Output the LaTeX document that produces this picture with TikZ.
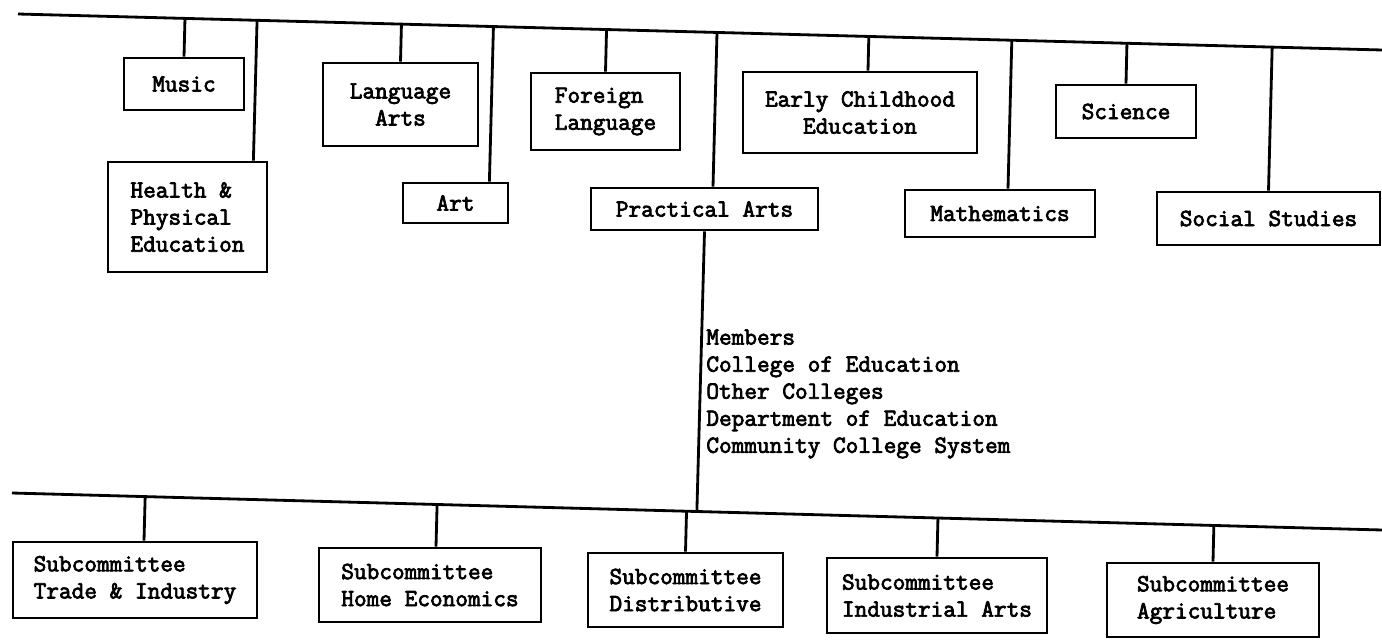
\documentclass[tikz,border=0pt]{standalone}
\usepackage{fontspec}
\usepackage{tikz}
\usetikzlibrary{calc}
\newfontfamily\typewriter{Latin Modern Mono}[FakeBold=3]

\begin{document}
\begin{tikzpicture}[x=0.02cm, y=0.02cm,
	unit/.style={draw=black, line width=1.6pt, inner sep=2pt, font=\typewriter\fontsize{14}{15.4}\selectfont},
	link/.style={black, line width=1.6pt}]
		\useasboundingbox (0,0) rectangle (1382,-639);
		\coordinate (top1) at (18,-14);
		\coordinate (top2) at (1382,-50);
		\coordinate (low1) at (12,-493);
		\coordinate (low2) at (1382,-530);
		\draw [link] (top1) -- (top2);
		\draw [link] (low1) -- (low2);
		\node (music) at (184,-84) [unit, minimum width=2.4cm, minimum height=1.04cm] {Music};
		\node (health) at (187.5,-217) [unit, align=left, minimum width=3.18cm, minimum height=2.2cm] {Health \&\\Physical\\Education};
		\node (langarts) at (400.5,-104.5) [unit, align=center, minimum width=3.1cm, minimum height=1.66cm] {Language\\Arts};
		\node (art) at (455.5,-203) [unit, minimum width=2.1cm, minimum height=0.8cm] {Art};
		\node (foreign) at (605.5,-111.5) [unit, align=left, minimum width=2.98cm, minimum height=1.54cm] {Foreign\\Language};
		\node (practical) at (704.5,-209) [unit, minimum width=4.54cm, minimum height=0.84cm] {Practical Arts};
		\node (early) at (860,-112.5) [unit, align=center, minimum width=4.68cm, minimum height=1.62cm] {Early Childhood\\Education};
		\node (math) at (1000,-213.5) [unit, minimum width=3.8cm, minimum height=0.94cm] {Mathematics};
		\node (science) at (1126,-111.5) [unit, minimum width=2.8cm, minimum height=1.06cm] {Science};
		\node (social) at (1268.5,-218.5) [unit, minimum width=4.46cm, minimum height=1.06cm] {Social Studies};
		\node (members) at (706,-394) [anchor=west, inner sep=0pt, align=left, font=\typewriter\fontsize{14}{15.4}\selectfont] {Members\\College of Education\\Other Colleges\\Department of Education\\Community College System};
		\node (trade) at (135,-580) [unit, align=left, minimum width=4.88cm, minimum height=1.52cm] {Subcommittee\\Trade \& Industry};
		\node (home) at (430,-585) [unit, align=left, minimum width=4.44cm, minimum height=1.48cm] {Subcommittee\\Home Economics};
		\node (distrib) at (685.5,-590) [unit, align=left, minimum width=3.9cm, minimum height=1.48cm] {Subcommittee\\Distributive};
		\node (indus) at (937,-595.5) [unit, align=left, minimum width=4.4cm, minimum height=1.5cm] {Subcommittee\\Industrial Arts};
		\node (agri) at (1213,-600) [unit, align=left, minimum width=4.24cm, minimum height=1.48cm] {Subcommittee\\Agriculture};
		\draw [link] (music.north) -- ($(top1)!(music.north)!(top2)$);
		\draw [link] ([xshift=-0.3cm]health.north east) -- ($(top1)!([xshift=-0.3cm]health.north east)!(top2)$);
		\draw [link] (langarts.north) -- ($(top1)!(langarts.north)!(top2)$);
		\draw [link] ([xshift=-0.4cm]art.north east) -- ($(top1)!([xshift=-0.4cm]art.north east)!(top2)$);
		\draw [link] (foreign.north) -- ($(top1)!(foreign.north)!(top2)$);
		\draw [link] ([xshift=0.17cm]practical.north) -- ($(top1)!([xshift=0.17cm]practical.north)!(top2)$);
		\draw [link] ([xshift=0.16cm]early.north) -- ($(top1)!([xshift=0.16cm]early.north)!(top2)$);
		\draw [link] ([xshift=0.16cm]math.north) -- ($(top1)!([xshift=0.16cm]math.north)!(top2)$);
		\draw [link] (science.north) -- ($(top1)!(science.north)!(top2)$);
		\draw [link] (social.north) -- ($(top1)!(social.north)!(top2)$);
		\draw [link] (practical.south) -- ($(low1)!(practical.south)!(low2)$);
		\draw [link] ([xshift=0.18cm]trade.north) -- ($(low1)!([xshift=0.18cm]trade.north)!(low2)$);
		\draw [link] ([xshift=0.12cm]home.north) -- ($(low1)!([xshift=0.12cm]home.north)!(low2)$);
		\draw [link] (distrib.north) -- ($(low1)!(distrib.north)!(low2)$);
		\draw [link] (indus.north) -- ($(low1)!(indus.north)!(low2)$);
		\draw [link] (agri.north) -- ($(low1)!(agri.north)!(low2)$);
	\end{tikzpicture}
\end{document}
